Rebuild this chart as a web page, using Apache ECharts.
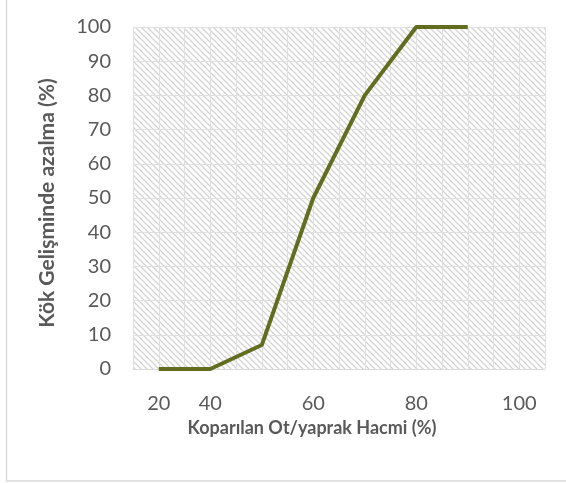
<!DOCTYPE html>
<html>
<head>
<meta charset="utf-8">
<script src="https://cdn.jsdelivr.net/npm/echarts@6/dist/echarts.min.js"></script>
<style>
html,body{margin:0;padding:0;background:#fff;}
#chart{width:566px;height:483px;}
</style>
</head>
<body>
<div id="chart"></div>
<script>
// Data
const categories = ['20', '40', '50', '60', '70', '80', '90', '100'];
const shownLabels = ['20', '40', '60', '80', '100'];
const reduction = [0, 0, 7, 50, 80, 100, 100, null];
const yTicks = { min: 0, max: 100, interval: 10 };
const xTitle = 'Koparılan Ot/yaprak Hacmi (%)';
const yTitle = 'Kök Gelişminde azalma (%)';

// hatch pattern
const pc = document.createElement('canvas');
const S = 6;
pc.width = S; pc.height = S;
const ctx = pc.getContext('2d');
ctx.fillStyle = '#ffffff';
ctx.fillRect(0, 0, S, S);
ctx.strokeStyle = '#d4d4d4';
ctx.lineWidth = 1.3;
ctx.beginPath();
ctx.moveTo(-1, -1); ctx.lineTo(S + 1, S + 1);
ctx.moveTo(-1, S - 1); ctx.lineTo(1, S + 1);
ctx.moveTo(S - 1, -1); ctx.lineTo(S + 1, 1);
ctx.stroke();

const chart = echarts.init(document.getElementById('chart'), null, { renderer: 'canvas' });
const font = 'Lato, "Open Sans", sans-serif';
chart.setOption({
  animation: false,
  grid: {
    left: 133, right: 21, top: 27, bottom: 114,
    show: true, borderWidth: 0,
    backgroundColor: { image: pc, repeat: 'repeat' }
  },
  xAxis: [{
    type: 'category',
    data: categories,
    boundaryGap: true,
    axisLine: { show: true, lineStyle: { color: '#d9d9d9', width: 1 } },
    axisTick: { show: false },
    splitLine: { show: false },
    axisLabel: {
      interval: function (i, v) { return shownLabels.indexOf(v) >= 0; },
      color: '#595959', fontSize: 20, fontFamily: font, margin: 25
    }
  }, {
    type: 'value', min: 0, max: categories.length * 2, interval: 1,
    position: 'top',
    axisLine: { show: false }, axisTick: { show: false }, axisLabel: { show: false },
    splitLine: { show: true, lineStyle: { color: '#e0e0e0', width: 1 } }
  }],
  yAxis: {
    type: 'value',
    min: yTicks.min, max: yTicks.max, interval: yTicks.interval,
    axisLine: { show: false },
    axisTick: { show: false },
    axisLabel: { color: '#595959', fontSize: 20, fontFamily: font, margin: 22 },
    splitLine: { show: true, lineStyle: { color: '#e0e0e0', width: 1 } }
  },
  series: [{
    type: 'line',
    xAxisIndex: 0,
    data: reduction,
    showSymbol: false,
    symbol: 'none',
    lineStyle: { color: '#636d1f', width: 4, cap: 'butt', join: 'round' }
  }],
  graphic: [
    {
      type: 'rect', silent: true,
      shape: { x: 6.5, y: -10, width: 600, height: 491 },
      style: { fill: 'none', stroke: '#d9d9d9', lineWidth: 1.5 }
    },
    {
      type: 'text', x: 312, y: 428,
      style: { text: xTitle, fill: '#595959', font: 'bold 18px ' + font, textAlign: 'center', textVerticalAlign: 'middle' }
    },
    {
      type: 'text', x: 47, y: 203, rotation: Math.PI / 2,
      style: { text: yTitle, fill: '#595959', font: 'bold 21px ' + font, textAlign: 'center', textVerticalAlign: 'middle' }
    }
  ]
});
</script>
</body>
</html>
